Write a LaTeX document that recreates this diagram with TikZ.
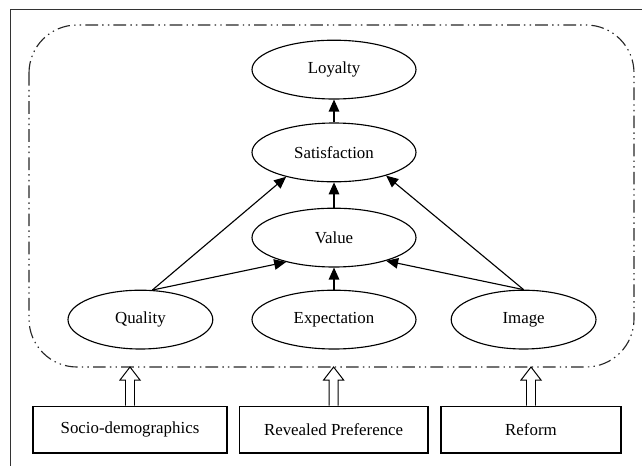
\documentclass[tikz,border=0pt]{standalone}
\usepackage{fontspec}
\setmainfont{Liberation Serif}
\usepackage{tikz}
\usetikzlibrary{positioning, arrows.meta, calc, shapes.geometric}

\begin{document}
\begin{tikzpicture}[
    ovalnode/.style={ellipse, draw=black, line width=0.8pt, minimum width=4.1cm, minimum height=1.47cm, inner sep=0mm, font=\fontsize{12}{14}\selectfont},
    smalloval/.style={ovalnode, minimum width=3.62cm},
    boxnode/.style={rectangle, draw=black, line width=0.8pt, minimum height=1.17cm, inner sep=0mm, font=\fontsize{12}{14}\selectfont},
    arr/.style={-{Triangle[length=8.5pt, width=7.5pt]}, line width=0.8pt},
    hollow/.style={line width=0.7pt, to path={
        let \p1=(\tikztostart), \p2=(\tikztotarget) in
        (\x1-0.1125cm,\y1) -- (\x1-0.1125cm,\y2-0.325cm) -- (\x1-0.25cm,\y2-0.325cm)
        -- (\x1,\y2) -- (\x1+0.25cm,\y2-0.325cm) -- (\x1+0.1125cm,\y2-0.325cm)
        -- (\x1+0.1125cm,\y1)}},
    groupline/.style={line width=0.8pt, draw=black!85, dash pattern=on 9pt off 3pt on 1pt off 3pt on 1pt off 3pt}
]
\useasboundingbox (0, 0) rectangle (16.05, -11.625);

% frame
\draw[black!80, line width=0.6pt] (0.25, -11.7) -- (0.25, -0.225) -- (16.1, -0.225);

% group
\draw[groupline, rounded corners=1.2cm] (0.725, -0.625) rectangle (15.85, -9.175);
\coordinate (gb) at (8.35, -9.175);

\node[ovalnode](loy) at (8.35, -1.74) {Loyalty};
\node[ovalnode](sat) at (8.35, -3.81) {Satisfaction};
\node[ovalnode](val) at (8.35, -5.94) {Value};

\node[smalloval](qua) at (3.51, -7.99) {Quality};
\node[ovalnode](exp) at (8.35, -7.99) {Expectation};
\node[smalloval](img) at (13.09, -7.99) {Image};

\node[boxnode, minimum width=4.85cm](soc) at (3.25, -10.74) {Socio-demographics};
\node[boxnode, minimum width=4.72cm](rev) at (8.34, -10.74) {Revealed Preference};
\node[boxnode, minimum width=4.5cm](ref) at (13.275, -10.74) {Reform};

\draw[arr] (sat) -- (loy);
\draw[arr] (val) -- (sat);
\draw[arr] (exp) -- (val);

\draw[arr] (qua.68) -- (sat.207);
\draw[arr] (qua.68) -- (val.207);
\draw[arr] (img.north) -- (sat.336);
\draw[arr] (img.north) -- (val.336);

\draw[hollow] (soc.north) to (soc.north |- gb);
\draw[hollow] (rev.north) to (rev.north |- gb);
\draw[hollow] (ref.north) to (ref.north |- gb);
\end{tikzpicture}
\end{document}
